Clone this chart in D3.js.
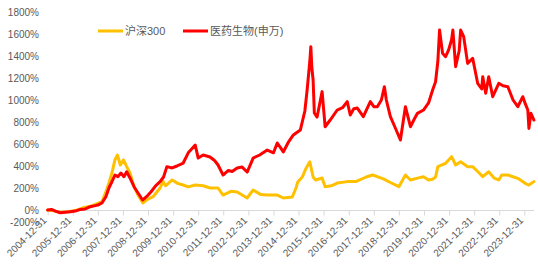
<!DOCTYPE html>
<html>
<head>
<meta charset="utf-8">
<script src="https://cdn.jsdelivr.net/npm/d3@7"></script>
<style>
  html, body { margin: 0; padding: 0; background: #fff; }
  svg { display: block; font-family: "Liberation Sans", Arial, "Noto Sans CJK SC", sans-serif; }
</style>
</head>
<body>
<svg id="chart" width="538" height="272"></svg>
<script>
// ---- data ----
const seriesNames = ["沪深300", "医药生物(申万)"];
const yTickValues = [-200, 0, 200, 400, 600, 800, 1000, 1200, 1400, 1600, 1800];
const xTickLabels = ["2004-12-31","2005-12-31","2006-12-31","2007-12-31","2008-12-31","2009-12-31",
  "2010-12-31","2011-12-31","2012-12-31","2013-12-31","2014-12-31","2015-12-31","2016-12-31",
  "2017-12-31","2018-12-31","2019-12-31","2020-12-31","2021-12-31","2022-12-31","2023-12-31"];

const csiDates = ["2004-12-31","2005-04-20","2005-07-01","2005-10-18","2006-02-06","2006-05-27","2006-09-12",
  "2006-11-24","2006-12-31","2007-03-01","2007-04-27","2007-06-10","2007-07-24","2007-09-06","2007-10-12",
  "2007-11-24","2008-01-08","2008-02-24","2008-04-12","2008-06-10","2008-08-07","2008-10-16","2008-12-09",
  "2009-03-14","2009-06-24","2009-08-07","2009-09-12","2009-12-17","2010-03-14","2010-05-27","2010-08-08",
  "2010-11-18","2011-03-14","2011-06-21","2011-10-16","2011-12-28","2012-04-20","2012-07-20","2012-12-13",
  "2013-03-10","2013-07-01","2013-10-01","2014-02-24","2014-05-23","2014-10-01","2014-11-24","2014-12-20",
  "2015-02-24","2015-04-20","2015-06-13","2015-07-31","2015-09-06","2015-12-09","2016-01-22","2016-04-20",
  "2016-07-16","2016-12-09","2017-04-20","2017-09-12","2017-12-13","2018-02-20","2018-05-27","2018-08-29",
  "2018-12-31","2019-04-05","2019-06-17","2019-09-27","2019-12-24","2020-03-07","2020-05-05","2020-06-17",
  "2020-07-20","2020-11-10","2021-02-06","2021-04-05","2021-06-17","2021-09-27","2021-12-09","2022-02-20",
  "2022-05-05","2022-07-31","2022-10-18","2022-12-24","2023-02-06","2023-05-05","2023-09-27","2024-01-18",
  "2024-03-07","2024-05-19"];
const csiValues = [0,-10,-20,-15,-5,20,35,
  50,60,75,166,245,336,455,500,
  409,455,394,336,212,136,64,91,
  121,200,260,220,273,240,227,210,
  227,220,200,200,136,170,164,109,
  182,140,136,136,109,118,200,255,
  300,380,439,300,273,291,212,220,
  245,258,260,300,318,303,280,250,
  212,318,273,290,303,273,280,300,
  394,424,485,409,439,394,394,350,
  303,348,290,273,318,318,288,240,
  227,258];

const pharmaDates = ["2004-12-31","2005-02-25","2005-04-20","2005-07-01","2005-09-12","2005-11-24","2006-02-06",
  "2006-04-20","2006-07-01","2006-09-12","2006-11-24","2006-12-31","2007-03-01","2007-04-27","2007-06-10",
  "2007-07-24","2007-09-06","2007-10-20","2007-12-02","2008-01-15","2008-02-24","2008-04-12","2008-06-10",
  "2008-08-07","2008-10-12","2008-12-09","2009-02-13","2009-04-20","2009-06-24","2009-08-14","2009-10-01",
  "2009-12-17","2010-02-24","2010-05-27","2010-08-08","2010-11-18","2010-12-31","2011-03-14","2011-06-21",
  "2011-08-26","2011-10-16","2011-12-28","2012-03-14","2012-05-08","2012-07-20","2012-10-01","2012-12-13",
  "2013-03-10","2013-06-13","2013-10-01","2013-12-31","2014-02-24","2014-04-20","2014-05-23","2014-08-08",
  "2014-10-16","2015-01-26","2015-04-02","2015-05-05","2015-06-13","2015-06-28","2015-07-12","2015-07-31",
  "2015-08-18","2015-09-27","2015-12-09","2016-01-22","2016-04-05","2016-07-16","2016-10-01","2016-12-09",
  "2017-01-22","2017-03-14","2017-05-05","2017-07-31","2017-11-10","2017-12-31","2018-02-20","2018-04-20",
  "2018-06-03","2018-07-01","2018-08-29","2018-11-06","2019-01-22","2019-04-05","2019-06-17","2019-08-07",
  "2019-09-27","2019-12-24","2020-03-07","2020-05-05","2020-06-17","2020-07-20","2020-08-14","2020-09-27",
  "2020-11-10","2020-12-24","2021-02-06","2021-02-24","2021-04-05","2021-05-27","2021-06-17","2021-07-31",
  "2021-09-27","2021-12-09","2022-02-20","2022-04-20","2022-05-05","2022-06-17","2022-07-31","2022-09-27",
  "2022-12-24","2023-02-24","2023-05-05","2023-07-20","2023-09-27","2023-12-09","2024-01-18","2024-02-20",
  "2024-03-07","2024-04-05","2024-05-19"];
const pharmaValues = [0,5,-10,-25,-20,-15,-10,
  5,10,30,40,45,64,121,200,
  257,318,303,336,303,348,291,212,
  155,91,121,166,220,257,300,394,
  382,400,427,520,590,472,500,482,
  450,409,318,360,350,382,390,345,
  472,500,545,520,609,560,527,620,
  682,727,900,1091,1350,1485,1300,1182,
  882,845,1076,757,818,909,930,985,
  864,920,927,848,985,939,939,1000,
  1121,1000,848,750,636,939,757,820,
  879,909,973,1091,1167,1350,1636,1424,
  1394,1455,1550,1636,1303,1450,1636,1576,
  1333,1379,1152,1100,1212,1061,1212,1030,
  1152,1130,1121,1000,939,1030,960,909,
  742,879,818];

// ---- chart ----
const parse = d3.timeParse("%Y-%m-%d");
const svg = d3.select("#chart");
const textColor = "#595959";
const axisColor = "#d9d9d9";

const x = d3.scaleTime()
  .domain([parse("2004-12-31"), parse("2024-05-20")])
  .range([47.7, 534]);
const y = d3.scaleLinear().domain([-200, 1800]).range([232, 12]);

// y axis labels
const yAxis = d3.axisLeft(y).tickValues(yTickValues).tickSize(0).tickPadding(0)
  .tickFormat(d => d + "%");
const gy = svg.append("g").attr("transform", "translate(39,0)").call(yAxis);
gy.select(".domain").remove();
gy.selectAll("text").attr("fill", textColor).attr("font-size", 10)
  .attr("font-family", "'Liberation Sans', Arial, sans-serif")
  .attr("dy", d => d === -200 ? "-0.65em" : "0.32em");

// x axis at 0%
const xAxis = d3.axisBottom(x).tickValues(xTickLabels.map(parse)).tickSize(5)
  .tickFormat(d3.timeFormat("%Y-%m-%d"));
const gx = svg.append("g").attr("transform", `translate(0,${y(0)})`).call(xAxis);
gx.select(".domain").attr("stroke", axisColor).attr("d", `M${x.range()[0]},0.5H${x.range()[1]}`);
gx.selectAll(".tick line").attr("stroke", axisColor).attr("transform", "translate(0,0.5)");
gx.selectAll(".tick text")
  .attr("fill", textColor).attr("font-size", 10)
  .attr("font-family", "'Liberation Sans', Arial, sans-serif")
  .attr("text-anchor", "end")
  .attr("y", 0).attr("dy", 0)
  .attr("transform", "translate(-1,11) rotate(-45)");

// lines
const csi = csiDates.map((d, i) => ({ date: parse(d), value: csiValues[i] }));
const pharma = pharmaDates.map((d, i) => ({ date: parse(d), value: pharmaValues[i] }));
const line = d3.line().x(d => x(d.date)).y(d => y(d.value));
const colors = ["#FFC000", "#FF0000"];

[csi, pharma].forEach((data, i) => {
  svg.append("path").datum(data)
    .attr("fill", "none").attr("stroke", colors[i]).attr("stroke-width", 3)
    .attr("stroke-linejoin", "round").attr("stroke-linecap", "round")
    .attr("d", line);
});

// legend
const legendX = [98, 183];
const lg = svg.append("g");
seriesNames.forEach((name, i) => {
  lg.append("line").attr("x1", legendX[i]).attr("x2", legendX[i] + 25)
    .attr("y1", 31).attr("y2", 31).attr("stroke", colors[i]).attr("stroke-width", 3);
  lg.append("text").attr("x", legendX[i] + 27).attr("y", 35)
    .attr("font-size", 11).attr("fill", textColor)
    .attr("font-family", "'Liberation Sans', Arial, 'Noto Sans CJK SC', sans-serif")
    .text(name);
});
</script>
</body>
</html>
